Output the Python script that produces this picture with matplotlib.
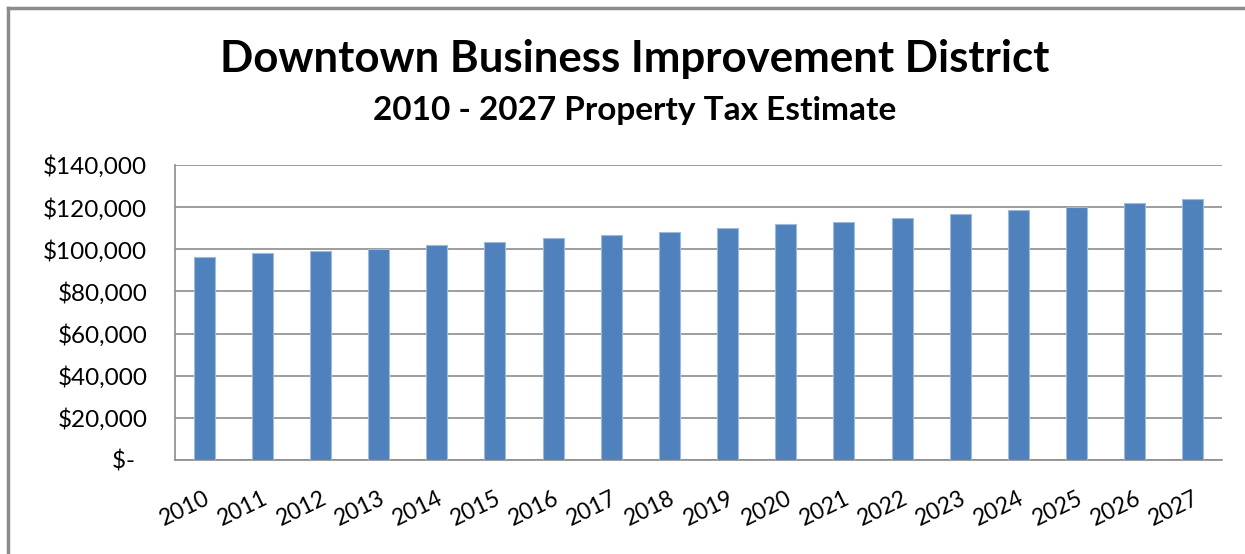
import matplotlib.pyplot as plt
import matplotlib.ticker as mticker
from matplotlib.lines import Line2D

plt.rcParams['font.family'] = ['Lato', 'DejaVu Sans']

years = [str(y) for y in range(2010, 2028)]
tax = [96100, 98000, 99200, 100100, 102200, 103600, 105200, 107000, 108300,
       109900, 111800, 112900, 114800, 116700, 118400, 120200, 122000, 123700]

fig = plt.figure(figsize=(12.45, 5.54), dpi=100)
ax = fig.add_axes([0.1406, 0.1697, 0.8409, 0.5325])

x = range(len(years))
ax.bar(x, tax, width=0.36, color='#4F81BD', edgecolor='#9DB9DC', linewidth=0.8, zorder=3)

ax.set_xlim(-0.5, len(years) - 0.5)
ax.set_ylim(0, 140000)
ax.set_yticks(range(0, 140001, 20000))

def money(v, pos):
    if v == 0:
        return '$-  '
    return '${:,.0f}'.format(v)

ax.yaxis.set_major_formatter(mticker.FuncFormatter(money))
ax.set_xticks(list(x))
ax.set_xticklabels(years, rotation=26, ha='right', rotation_mode='anchor')

ax.grid(axis='y', color='#8C8C8C', linewidth=1.2, zorder=0)
for s in ['top', 'right']:
    ax.spines[s].set_visible(False)
for s in ['left', 'bottom']:
    ax.spines[s].set_color('#8C8C8C')
    ax.spines[s].set_linewidth(1.2)
ax.tick_params(axis='y', length=0, pad=20, labelsize=17.5)
ax.tick_params(axis='x', length=0, pad=20, labelsize=16.5)

fig.text(0.51, 0.893, 'Downtown Business Improvement District', ha='center', va='center',
         fontsize=31.5, fontweight='bold')
fig.text(0.51, 0.80, '2010 - 2027 Property Tax Estimate', ha='center', va='center',
         fontsize=24, fontweight='bold')

# outer chart frame (left and top edges visible)
fig.add_artist(Line2D([0.0064, 0.0064], [0, 0.985], transform=fig.transFigure,
                      color='#8C8C8C', linewidth=2.5))
fig.add_artist(Line2D([0.0064, 1], [0.985, 0.985], transform=fig.transFigure,
                      color='#8C8C8C', linewidth=2.5))

fig.savefig('out.png', dpi=100)
